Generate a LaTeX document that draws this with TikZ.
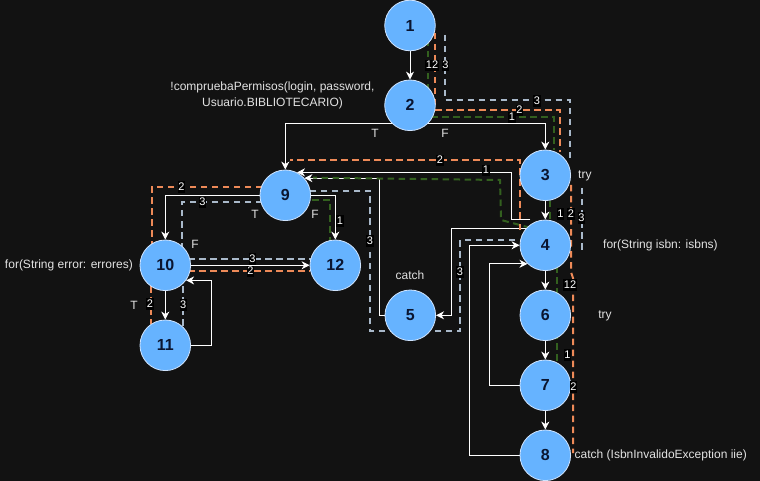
\documentclass[tikz,border=0pt]{standalone}
\usepackage{fontspec}
\setmainfont{Liberation Sans}
\usetikzlibrary{arrows.meta,calc}
\definecolor{bgc}{HTML}{121212}
\definecolor{nodeblue}{HTML}{66B3FF}
\definecolor{nodeline}{HTML}{CFE4FF}
\definecolor{numtext}{HTML}{0A1530}
\definecolor{pone}{HTML}{33601F}
\definecolor{ptwo}{HTML}{EE8A58}
\definecolor{pthree}{HTML}{A9B9CA}
\definecolor{lbl}{HTML}{E2E2E2}
\pgfdeclarelayer{back}
\pgfdeclarelayer{mid}
\pgfsetlayers{back,mid,main}
\begin{document}
\begin{tikzpicture}[x=1pt,y=-1pt,
  cfgnode/.style={circle,minimum size=50.6pt,inner sep=0pt,fill=nodeblue,draw=nodeline,line width=0.8pt,text=numtext,font=\fontsize{16}{16}\selectfont\bfseries},
  edge/.style={draw=white,line width=1pt,-{Stealth[length=8pt,width=8pt,inset=2.5pt]}},
  pathone/.style={draw=pone,line width=2pt,dash pattern=on 6.5pt off 4.5pt},
  pathtwo/.style={draw=ptwo,line width=2pt,dash pattern=on 6.5pt off 4.5pt},
  paththree/.style={draw=pthree,line width=2pt,dash pattern=on 6.5pt off 4.5pt},
  tag/.style={fill=black,text=white,font=\fontsize{11}{11}\selectfont,inner xsep=0.6pt,inner ysep=0.8pt,text height=8pt,text depth=1.5pt},
  note/.style={text=lbl,font=\fontsize{12}{15.5}\selectfont,inner sep=0pt}
]
\begin{pgfonlayer}{back}
\fill[bgc] (0,0) rectangle (760,481);
\end{pgfonlayer}
\useasboundingbox (0,0) rectangle (760,481);

% nodes
\node[cfgnode] (n1) at (410,25.5) {1};
\node[cfgnode] (n2) at (410,105.3) {2};
\node[cfgnode] (n3) at (545.3,175.3) {3};
\node[cfgnode] (n4) at (545.3,245.3) {4};
\node[cfgnode] (n5) at (410.3,315.3) {5};
\node[cfgnode] (n6) at (545.3,315.3) {6};
\node[cfgnode] (n7) at (545.3,385.3) {7};
\node[cfgnode] (n8) at (545.3,455.3) {8};
\node[cfgnode] (n9) at (285.3,195.3) {9};
\node[cfgnode] (n10) at (165.3,265.3) {10};
\node[cfgnode] (n11) at (165.3,345.3) {11};
\node[cfgnode] (n12) at (335.3,265.3) {12};

\begin{pgfonlayer}{mid}
% edges
\draw[edge] (n1) -- (n2);
\draw[edge] (n2.-46) -| (n3.north);
\draw[edge] (n2.-134) -| (n9.north);
\draw[edge] (n3) -- (n4);
\draw[edge] (n4.138) -| ($(n5.east)+(15,0)$) -- (n5.east);
\draw[edge] (n4) -- (n6);
\draw[edge] (n6) -- (n7);
\draw[edge] (n7) -- (n8);
\draw[edge] (n7.west) -- ++(-30,0) |- (n4.226);
\draw[edge] (n8.west) -- ++(-50,0) |- (n4.west);
\draw[edge] (n5.west) -- ++(-5,0) |- (n9.42);
\draw[edge] ($(n4.north)+(-15,0)$) -- ++(-19.3,0) |- (n9.63);
\draw[edge] (n9.west) -| (n10.north);
\draw[edge] (n9.east) -| (n12.north);
\draw[edge] (n10.east) -- (n12.west);
\draw[edge] (n10) -- (n11);
\draw[edge] (n11.east) -- ++(20,0) |- (n10.-36);

% path 1 (green)
\draw[pathone] (428.3,40) -- (428.3,95);
\draw[pathone] (420,117.3) -- (554,117.3) -- (554,150);
\draw[pathone] (550,190) -- (550,228);
\draw[pathone] (557,255) -- (557,375);
\draw[pathone] (530,227.7) -- (501,220) -- (500,180) -- (313,177.7);
\draw[pathone] (312,200) -- (330,200) -- (330,245);

% path 2 (orange)
\draw[pathtwo] (435.3,33) -- (435.3,110.3) -- (560,110.3) -- (560,152);
\draw[pathtwo] (571,185) -- (571,272) -- (573,278) -- (573,453);
\draw[pathtwo] (520,230) -- (520,160.5) -- (290,160.5);
\draw[pathtwo] (262,186.7) -- (151.7,186.7) -- (151.7,248);
\draw[pathtwo] (150.7,286) -- (150.7,324);
\draw[pathtwo] (188,271.3) -- (310,271.3);

% path 3 (gray)
\draw[paththree] (445,35) -- (445,100.5) -- (570,100.5) -- (570,158);
\draw[paththree] (581.5,188) -- (581.5,253);
\draw[paththree] (515,240) -- (460,240) -- (460,331) -- (422,331);
\draw[paththree] (396,331) -- (370,331) -- (370,190.7) -- (306,190.7);
\draw[paththree] (262,202.3) -- (181.7,202.3) -- (181.7,248);
\draw[paththree] (182.7,286) -- (182.7,327);
\draw[paththree] (188,259) -- (312,259);
\end{pgfonlayer}

% branch labels
\node[note] (tT1) at (375,133) {T};
\node[note] (tF1) at (445,133) {F};
\node[note] (tT2) at (255,214) {T};
\node[note] (tF2) at (315,214) {F};
\node[note] (tF3) at (195,244) {F};
\node[note] (tT3) at (134,305) {T};

% annotations
\node[note,align=center] (c2) at (272.5,95.5) {!compruebaPermisos(login, password,\\Usuario.BIBLIOTECARIO)};
\node[note,anchor=west] (c3) at (578,175.5) {try};
\node[note,anchor=west] (c4) at (603,245.5) {for(String isbn: isbns)};
\node[note] (c5) at (410,275) {catch};
\node[note] (c6) at (605,315.5) {try};
\node[note,anchor=west] (c8) at (574.5,455.5) {catch (IsbnInvalidoException iie)};
\node[note,anchor=east] (c10) at (133,265.5) {for(String error: errores)};

% path tags
\node[tag] (g1) at (432,65.5) {12};
\node[tag] (g2) at (445.5,65.5) {3};
\node[tag] (g3) at (512,117.5) {1};
\node[tag] (g4) at (519.5,110.5) {2};
\node[tag] (g5) at (537,101) {3};
\node[tag] (g6) at (440,160.5) {2};
\node[tag] (g7) at (486,170.5) {1};
\node[tag] (g8) at (560.5,214) {1};
\node[tag] (g9) at (571,214) {2};
\node[tag] (g10) at (581.5,218) {3};
\node[tag] (g11) at (570,285) {12};
\node[tag] (g12) at (567.5,355) {1};
\node[tag] (g13) at (573.5,387) {2};
\node[tag] (g14) at (370,241) {3};
\node[tag] (g15) at (460,272) {3};
\node[tag] (g16) at (340,221) {1};
\node[tag] (g17) at (181.5,187) {2};
\node[tag] (g18) at (202.5,202.5) {3};
\node[tag] (g19) at (252.5,259) {3};
\node[tag] (g20) at (250.5,271.7) {2};
\node[tag] (g21) at (150,304) {2};
\node[tag] (g22) at (183.3,305) {3};
\end{tikzpicture}
\end{document}
